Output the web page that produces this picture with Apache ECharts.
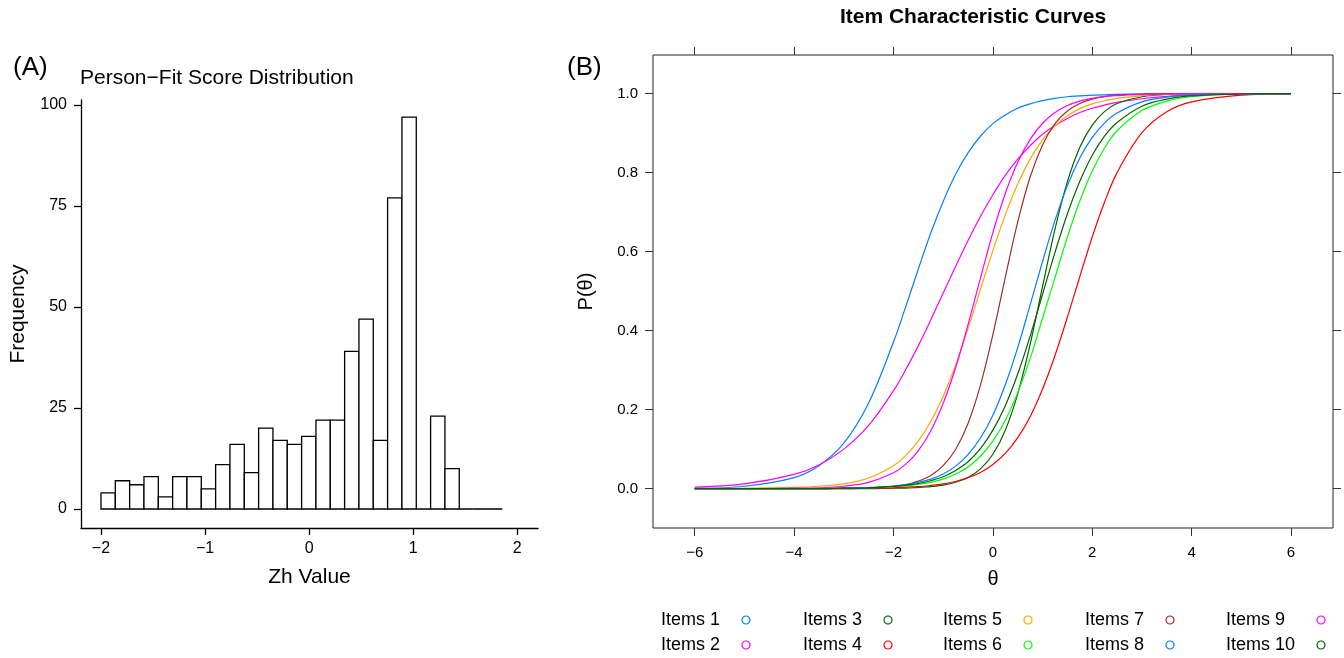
<!DOCTYPE html>
<html><head><meta charset="utf-8">
<script src="https://cdn.jsdelivr.net/npm/echarts@6/dist/echarts.min.js"></script>
<style>html,body{margin:0;padding:0;background:#fff}#c{width:1344px;height:658px}</style>
</head><body><div id="c"></div>
<script>
// ---- Panel A: histogram of Zh values ----
const histBinStart = -2;
const histBinWidth = 0.1377;
const histCounts = [4, 7, 6, 8, 3, 8, 8, 5, 11, 16, 9, 20, 17, 16, 18, 22, 22, 39, 47, 17, 77, 97, 0, 23, 10, 0, 0, 0];
const histXTicks = [-2, -1, 0, 1, 2];
const histYTicks = [0, 25, 50, 75, 100];

// ---- Panel B: item characteristic curves ----
const theta = [-6, -5, -4, -3.5, -3, -2.5, -2, -1.75, -1.5, -1.25, -1, -0.75, -0.5, -0.25, 0, 0.25, 0.5, 0.75, 1, 1.25, 1.5, 1.75, 2, 2.25, 2.5, 3, 3.5, 4, 5, 6];
const item1 = [0.001, 0.006, 0.028, 0.058, 0.115, 0.217, 0.371, 0.462, 0.556, 0.647, 0.727, 0.796, 0.850, 0.892, 0.924, 0.946, 0.963, 0.974, 0.982, 0.988, 0.992, 0.994, 0.996, 0.997, 0.998, 0.999, 1.000, 1.000, 1.000, 1.000];
const item2 = [0.004, 0.012, 0.036, 0.060, 0.100, 0.160, 0.248, 0.302, 0.362, 0.427, 0.495, 0.562, 0.628, 0.689, 0.744, 0.793, 0.834, 0.868, 0.897, 0.919, 0.937, 0.952, 0.963, 0.971, 0.978, 0.987, 0.993, 0.996, 0.999, 1.000];
const item3 = [0.000, 0.000, 0.000, 0.000, 0.000, 0.000, 0.001, 0.001, 0.003, 0.005, 0.009, 0.016, 0.028, 0.050, 0.087, 0.148, 0.240, 0.365, 0.512, 0.657, 0.777, 0.864, 0.920, 0.955, 0.975, 0.992, 0.998, 0.999, 1.000, 1.000];
const item4 = [0.000, 0.000, 0.000, 0.000, 0.000, 0.001, 0.002, 0.004, 0.005, 0.008, 0.012, 0.018, 0.028, 0.041, 0.061, 0.089, 0.129, 0.182, 0.252, 0.337, 0.434, 0.537, 0.637, 0.726, 0.800, 0.901, 0.954, 0.979, 0.996, 0.999];
const item5 = [0.000, 0.001, 0.003, 0.006, 0.012, 0.027, 0.058, 0.084, 0.121, 0.170, 0.234, 0.313, 0.405, 0.504, 0.603, 0.693, 0.771, 0.834, 0.883, 0.918, 0.944, 0.962, 0.974, 0.982, 0.988, 0.995, 0.998, 0.999, 1.000, 1.000];
const item6 = [0.000, 0.000, 0.000, 0.000, 0.001, 0.002, 0.005, 0.007, 0.011, 0.016, 0.024, 0.037, 0.055, 0.082, 0.120, 0.173, 0.243, 0.329, 0.432, 0.534, 0.637, 0.728, 0.804, 0.863, 0.906, 0.957, 0.981, 0.992, 0.999, 1.000];
const item7 = [0.000, 0.000, 0.000, 0.000, 0.001, 0.002, 0.006, 0.010, 0.019, 0.033, 0.058, 0.099, 0.165, 0.262, 0.390, 0.535, 0.675, 0.789, 0.870, 0.924, 0.956, 0.975, 0.986, 0.992, 0.996, 0.999, 1.000, 1.000, 1.000, 1.000];
const item8 = [0.000, 0.000, 0.000, 0.000, 0.001, 0.003, 0.006, 0.010, 0.016, 0.024, 0.037, 0.057, 0.086, 0.128, 0.186, 0.263, 0.357, 0.465, 0.575, 0.679, 0.767, 0.837, 0.889, 0.926, 0.951, 0.979, 0.991, 0.997, 0.999, 1.000];
const item9 = [0.000, 0.000, 0.001, 0.002, 0.006, 0.016, 0.040, 0.062, 0.096, 0.146, 0.216, 0.306, 0.415, 0.533, 0.648, 0.747, 0.826, 0.884, 0.925, 0.952, 0.970, 0.981, 0.988, 0.993, 0.995, 0.998, 0.999, 1.000, 1.000, 1.000];
const item10 = [0.000, 0.000, 0.000, 0.000, 0.001, 0.002, 0.006, 0.009, 0.013, 0.020, 0.030, 0.046, 0.068, 0.101, 0.148, 0.210, 0.290, 0.386, 0.492, 0.598, 0.696, 0.778, 0.844, 0.893, 0.927, 0.968, 0.986, 0.994, 0.999, 1.000];
const itemNames = ['Items 1', 'Items 2', 'Items 3', 'Items 4', 'Items 5', 'Items 6', 'Items 7', 'Items 8', 'Items 9', 'Items 10'];
const itemValues = [item1, item2, item3, item4, item5, item6, item7, item8, item9, item10];
const itemColors = ['#0080ff', '#ff00ff', '#006400', '#ff0000', '#ffa500', '#00ff00', '#a52a2a', '#0080ff', '#ff00ff', '#006400'];
const iccXTicks = [-6, -4, -2, 0, 2, 4, 6];
const iccYTicks = [0, 0.2, 0.4, 0.6, 0.8, 1];

const FONT = '"Liberation Sans", Arial, Helvetica, sans-serif';
const minusFmt = v => (v < 0 ? '\u2212' + Math.abs(v) : String(v));

const chart = echarts.init(document.getElementById('c'), null, { renderer: 'canvas' });

const histData = histCounts.map((c, i) => [histBinStart + i * histBinWidth, histBinStart + (i + 1) * histBinWidth, c]);

const legendLefts = [661, 803, 943, 1085, 1226];
const legendWidths = [76, 76, 76, 76, 86];
const legends = legendLefts.map((L, c) => ({
  left: L, top: 611, orient: 'vertical', align: 'right', padding: 0,
  itemGap: 7, itemWidth: 8, itemHeight: 8, selectedMode: false,
  formatter: n => '{t|' + n + '}',
  textStyle: { rich: { t: { width: legendWidths[c], align: 'left', fontSize: 18, lineHeight: 18, color: '#000', fontFamily: FONT } } },
  data: [2 * c, 2 * c + 1].map(k => ({
    name: itemNames[k], icon: 'circle',
    itemStyle: { color: '#ffffff', borderColor: itemColors[k], borderWidth: 1.2 }
  }))
}));

const tickStyle = { color: '#333', width: 1 };

const option = {
  animation: false,
  backgroundColor: '#ffffff',
  textStyle: { fontFamily: FONT },
  title: [
    { text: '(A)', left: 13, top: 55, padding: 0, textStyle: { fontSize: 26, lineHeight: 26, fontWeight: 'normal', color: '#000', fontFamily: FONT } },
    { text: 'Person\u2212Fit Score Distribution', left: 80, top: 68, padding: 0, textStyle: { fontSize: 21, lineHeight: 21, fontWeight: 'normal', color: '#000', fontFamily: FONT } },
    { text: '(B)', left: 567, top: 55, padding: 0, textStyle: { fontSize: 26, lineHeight: 26, fontWeight: 'normal', color: '#000', fontFamily: FONT } },
    { text: 'Item Characteristic Curves', left: 973, top: 7, padding: 0, textAlign: 'center', textStyle: { fontSize: 21, lineHeight: 21, fontWeight: 'bold', color: '#000', fontFamily: FONT } }
  ],
  legend: legends,
  grid: [
    { left: 81, top: 100, width: 457, height: 428, containLabel: false },
    { left: 653, top: 55, width: 680, height: 473, containLabel: false, show: true, borderColor: '#222', borderWidth: 1, backgroundColor: 'transparent' }
  ],
  xAxis: [
    { type: 'value', gridIndex: 0, min: -2.192, max: 2.199,
      name: 'Zh Value', nameLocation: 'middle', nameGap: 39, nameTextStyle: { fontSize: 21, color: '#000', fontFamily: FONT },
      axisLine: { show: true, onZero: false, lineStyle: { color: '#000', width: 1.3 } },
      axisTick: { show: true, length: 7, customValues: histXTicks, lineStyle: { color: '#000', width: 1.3 } },
      axisLabel: { show: true, customValues: histXTicks, margin: 13, fontSize: 16, color: '#000', fontFamily: FONT, formatter: minusFmt },
      splitLine: { show: false } },
    { type: 'value', gridIndex: 1, min: -6.84, max: 6.845, position: 'bottom',
      name: '\u03b8', nameLocation: 'middle', nameGap: 41, nameTextStyle: { fontSize: 20, color: '#000', fontFamily: FONT },
      axisLine: { show: false, onZero: false },
      axisTick: { show: true, length: 8, customValues: iccXTicks, lineStyle: tickStyle },
      axisLabel: { show: true, customValues: iccXTicks, margin: 17, fontSize: 15, color: '#000', fontFamily: FONT, formatter: minusFmt },
      splitLine: { show: false } },
    { type: 'value', gridIndex: 1, min: -6.84, max: 6.845, position: 'top',
      axisLine: { show: false, onZero: false },
      axisTick: { show: true, length: 8, customValues: iccXTicks, lineStyle: tickStyle },
      axisLabel: { show: false },
      splitLine: { show: false } }
  ],
  yAxis: [
    { type: 'value', gridIndex: 0, min: -4.7, max: 101.24,
      name: 'Frequency', nameLocation: 'middle', nameGap: 52, nameTextStyle: { fontSize: 21, color: '#000', fontFamily: FONT },
      axisLine: { show: true, onZero: false, lineStyle: { color: '#000', width: 1.3 } },
      axisTick: { show: true, length: 7, customValues: histYTicks, lineStyle: { color: '#000', width: 1.3 } },
      axisLabel: { show: true, customValues: histYTicks, margin: 14, fontSize: 16, color: '#000', fontFamily: FONT },
      splitLine: { show: false } },
    { type: 'value', gridIndex: 1, min: -0.0997, max: 1.0977, position: 'left',
      name: 'P(\u03b8)', nameLocation: 'middle', nameGap: 57, nameTextStyle: { fontSize: 20, color: '#000', fontFamily: FONT },
      axisLine: { show: false, onZero: false },
      axisTick: { show: true, length: 8, customValues: iccYTicks, lineStyle: tickStyle },
      axisLabel: { show: true, customValues: iccYTicks, margin: 15, fontSize: 15, color: '#000', fontFamily: FONT, formatter: v => v.toFixed(1) },
      splitLine: { show: false } },
    { type: 'value', gridIndex: 1, min: -0.0997, max: 1.0977, position: 'right',
      axisLine: { show: false, onZero: false },
      axisTick: { show: true, length: 8, customValues: iccYTicks, lineStyle: tickStyle },
      axisLabel: { show: false },
      splitLine: { show: false } }
  ],
  series: [
    { type: 'custom', name: 'Zh', xAxisIndex: 0, yAxisIndex: 0, data: histData,
      encode: { x: [0, 1], y: 2 },
      renderItem: (params, api) => {
        const p0 = api.coord([api.value(0), api.value(2)]);
        const p1 = api.coord([api.value(1), 0]);
        return { type: 'rect', shape: { x: p0[0], y: p0[1], width: p1[0] - p0[0], height: p1[1] - p0[1] },
          style: { fill: '#ffffff', stroke: '#000000', lineWidth: 1.3 } };
      } }
  ].concat(itemNames.map((n, k) => ({
    type: 'line', name: n, xAxisIndex: 1, yAxisIndex: 1,
    data: theta.map((t, i) => [t, itemValues[k][i]]),
    showSymbol: false, symbol: 'none', smooth: 0.35,
    lineStyle: { color: itemColors[k], width: 1.2 }, itemStyle: { color: itemColors[k] },
    emphasis: { disabled: true }, silent: true
  })))
};
chart.setOption(option);
</script></body></html>
